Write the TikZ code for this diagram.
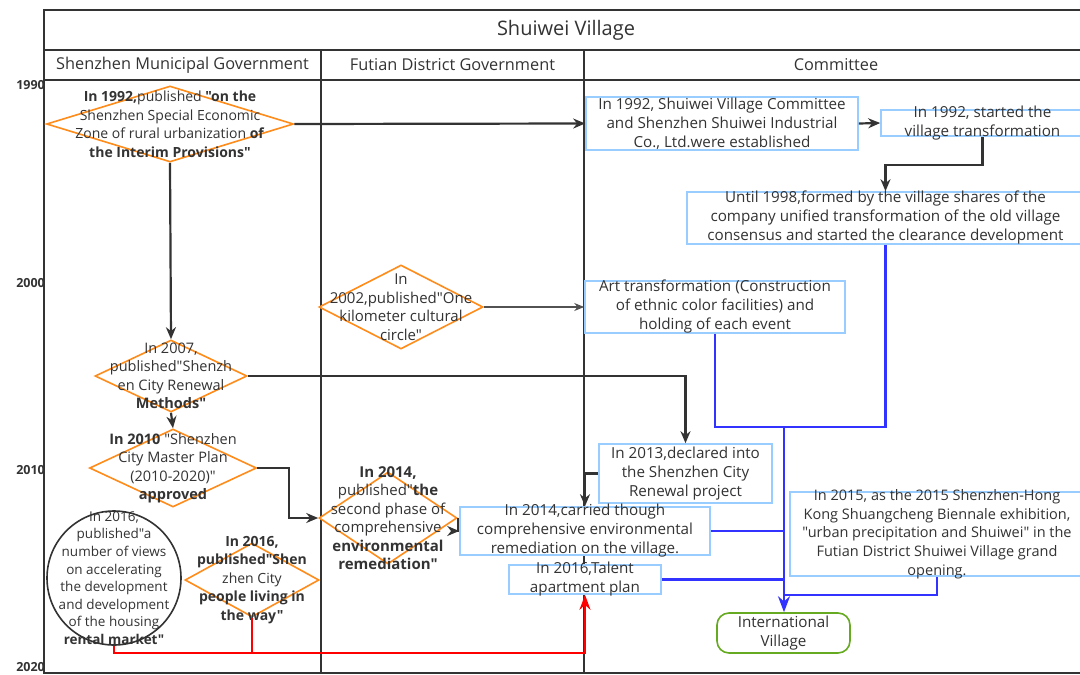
\documentclass[tikz,border=0pt]{standalone}
\usepackage{fontspec}
\setmainfont{Open Sans}[Ligatures=TeXOff]
\usetikzlibrary{shapes.geometric,arrows.meta}
\definecolor{lineg}{HTML}{333333}
\definecolor{diaor}{HTML}{FF8C1A}
\definecolor{boxbl}{HTML}{99CCFF}
\definecolor{linkbl}{HTML}{3333FF}
\definecolor{endgr}{HTML}{66AA22}
\tikzset{
  frame/.style={draw=lineg,line width=2pt},
  lane/.style={draw=lineg,line width=2.6pt},
  title/.style={text=lineg,font=\fontsize{20}{24}\selectfont},
  head/.style={text=lineg,font=\fontsize{16.3}{19}\selectfont},
  year/.style={anchor=east,inner sep=0pt,text=lineg,font=\fontsize{12.5}{14}\selectfont\bfseries},
  dia/.style={diamond,draw=diaor,line width=1.6pt,fill=white,inner sep=0pt},
  evbox/.style={rectangle,draw=boxbl,line width=1.6pt,fill=white,inner sep=0pt},
  dtext/.style={align=center,inner sep=0pt,text=lineg,font=\fontsize{14.5}{18.5}\selectfont},
  etext/.style={align=center,inner sep=0pt,text=lineg,font=\fontsize{15.2}{19}\selectfont},
  arr/.style={->,>={Stealth[length=12pt,width=10pt]},draw=lineg,line width=2.2pt},
  thinarr/.style={->,>={Stealth[length=10pt,width=8pt]},draw=lineg!85,line width=1.2pt},
  bline/.style={draw=linkbl,line width=2.4pt},
  rline/.style={draw=red,line width=2.4pt}
}
\begin{document}
\begin{tikzpicture}[x=1pt,y=-1pt]
\useasboundingbox (0,0) rectangle (1080,675);
% swimlanes
\draw[frame] (44,10) rectangle (1088,673);
\draw[frame] (44,50) -- (1088,50);
\draw[frame] (44,80) -- (1088,80);
\draw[lane] (321,50) -- (321,673);
\draw[lane] (584,50) -- (584,673);
\node[title] (ttl) at (566,30) {Shuiwei Village};
\node[head] (hsz) at (182.5,65) {Shenzhen Municipal Government};
\node[head] (hft) at (452.5,65) {Futian District Government};
\node[head] (hcm) at (836,65) {Committee};
\foreach \yr/\yy in {1990/85,2000/283,2010/470,2020/667}
  \node[year] (y\yr) at (45,\yy) {\yr};

% municipal government
\node[dia,minimum width=247,minimum height=76] (d1992) at (170,124) {};
\node[dtext,font=\fontsize{14}{18.5}\selectfont] (d1992t) at (d1992) {\textbf{In 1992,}published \textbf{"on the}\\Shenzhen Special Economic\\Zone of rural urbanization \textbf{of}\\\textbf{the Interim Provisions"}};
\node[dia,minimum width=152,minimum height=72] (d2007) at (171,376) {};
\node[dtext] (d2007t) at (d2007) {In 2007,\\published"Shenzh\\en City Renewal\\\textbf{Methods"}};
\node[dia,minimum width=167,minimum height=78] (d2010) at (173,468) {};
\node[dtext] (d2010t) at (d2010) {\textbf{In 2010} "Shenzhen\\City Master Plan\\(2010-2020)"\\\textbf{approved}};
\node[circle,draw=lineg,line width=1.6pt,fill=white,minimum size=134,inner sep=0pt] (c2016) at (114,578) {};
\node[dtext,font=\fontsize{13.5}{17.6}\selectfont] (c2016t) at (c2016) {In 2016,\\published"a\\number of views\\on accelerating\\the development\\and development\\of the housing\\\textbf{rental market"}};
\node[dia,minimum width=134,minimum height=74] (dpeople) at (252,580) {};
\node[dtext,font=\fontsize{14}{18.5}\selectfont] (dpeoplet) at (dpeople) {\textbf{In 2016,}\\\textbf{published"Shen}\\zhen City\\\textbf{people living in}\\\textbf{the way"}};

% district government
\node[dia,minimum width=164,minimum height=84] (d2002) at (401,307) {};
\node[dtext,font=\fontsize{15}{18.5}\selectfont] (d2002t) at (d2002) {In\\2002,published"One\\kilometer cultural\\circle"};
\node[dia,minimum width=138,minimum height=92] (d2014) at (388,518) {};
\node[dtext,font=\fontsize{15}{18.5}\selectfont] (d2014t) at (d2014) {\textbf{In 2014,}\\published"\textbf{the}\\second phase of\\comprehensive\\\textbf{environmental}\\\textbf{remediation"}};

% committee
\node[evbox,minimum width=272,minimum height=53] (b1992) at (722,123.5) {};
\node[etext] (b1992t) at (b1992) {In 1992, Shuiwei Village Committee\\and Shenzhen Shuiwei Industrial\\Co., Ltd.were established};
\node[evbox,minimum width=203,minimum height=26] (bstart) at (982.5,123) {};
\node[etext] (bstartt) at (bstart) {In 1992, started the\\village transformation};
\node[evbox,minimum width=397,minimum height=52] (b1998) at (885.5,218) {};
\node[etext] (b1998t) at (b1998) {Until 1998,formed by the village shares of the\\company unified transformation of the old village\\consensus and started the clearance development};
\node[evbox,minimum width=260,minimum height=52] (bart) at (715,307) {};
\node[etext] (bartt) at (bart) {Art transformation (Construction\\of ethnic color facilities) and\\holding of each event};
\node[evbox,minimum width=173,minimum height=59] (b2013) at (685.5,473.5) {};
\node[etext] (b2013t) at (b2013) {In 2013,declared into\\the Shenzhen City\\Renewal project};
\node[evbox,minimum width=250,minimum height=48] (b2014) at (585,531) {};
\node[etext] (b2014t) at (b2014) {In 2014,carried though\\comprehensive environmental\\remediation on the village.};
\node[evbox,minimum width=152,minimum height=29] (btalent) at (585,579.5) {};
\node[etext] (btalentt) at (btalent) {In 2016,Talent\\apartment plan};
\node[evbox,minimum width=294,minimum height=84] (b2015) at (937,534) {};
\node[etext,font=\fontsize{14.5}{18.7}\selectfont] (b2015t) at (b2015) {In 2015, as the 2015 Shenzhen-Hong\\Kong Shuangcheng Biennale exhibition,\\"urban precipitation and Shuiwei" in the\\Futian District Shuiwei Village grand\\opening.};
\node[rectangle,rounded corners=12pt,draw=endgr,line width=1.6pt,fill=white,minimum width=133,minimum height=40] (intl) at (783.5,633) {};
\node[etext] (intlt) at (intl) {International\\Village};

% links
\draw[arr] (d1992.east) -- (b1992.west);
\draw[arr] (b1992.east) -- (bstart.west);
\draw[arr] (bstart.south) -- ++(0,28) -| (b1998.north);
\draw[arr] (d1992.south) -- (d2007.north);
\draw[arr] (d2007.south) -- (d2010.north);
\draw[arr] (d2010.east) -- ++(32,0) |- (d2014.west);
\draw[arr] (d2007.east) -| (b2013.north);
\draw[arr] (b2013.west) -| (b2014.north);
\draw[arr] (d2014.east) |- (b2014.west);
\draw[thinarr] (d2002.east) -- (bart.west);
\coordinate (bjoin) at (784,427);
\coordinate (bmerge) at (784,595);
\draw[bline] (bart.south) |- (bjoin) -| (b1998.south);
\draw[bline] (b2014.east) -- (b2014.east -| bjoin);
\draw[bline] (btalent.east) -- (btalent.east -| bjoin);
\draw[bline] (b2015.south) |- (bmerge);
\draw[bline,->,>={Stealth[length=16pt,width=12pt]}] (bjoin) -- (bjoin |- intl.north);
\coordinate (rbase) at (252,653);
\draw[rline] (c2016.south) |- (rbase);
\draw[rline] (dpeople.south) -- (rbase);
\draw[rline,->,>={Stealth[length=15pt,width=11pt]}] (rbase) -| (btalent.south);
\end{tikzpicture}
\end{document}
